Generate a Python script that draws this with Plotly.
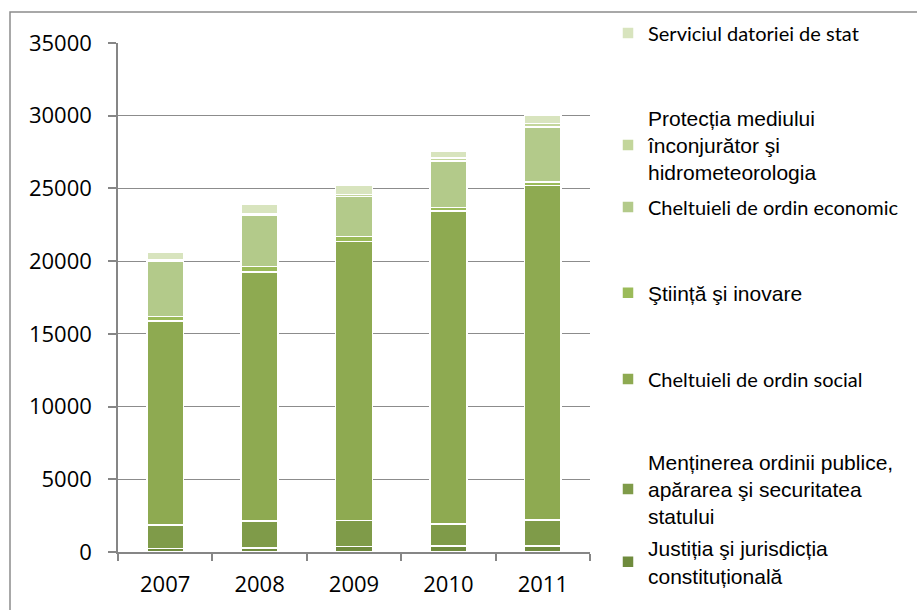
import plotly.graph_objects as go

# Budget expenditure by function, million lei
years = ["2007", "2008", "2009", "2010", "2011"]
justitia = [250, 280, 365, 430, 430]
mentinerea = [1607, 1850, 1785, 1495, 1770]
social = [14011, 17108, 19192, 21529, 23008]
stiinta = [316, 385, 358, 241, 241]
economic = [3797, 3540, 2750, 3198, 3783]
protectia = [100, 110, 120, 200, 250]
datoriei = [533, 612, 672, 440, 575]

names = [
    "Justiția şi jurisdicția<br>constituțională",
    "Menținerea ordinii publice,<br>apărarea şi securitatea<br>statului",
    "Cheltuieli de ordin social",
    "Ştiință şi inovare",
    "Cheltuieli de ordin economic",
    "Protecția mediului<br>înconjurător şi<br>hidrometeorologia",
    "Serviciul datoriei de stat",
]
series = [justitia, mentinerea, social, stiinta, economic, protectia, datoriei]
colors = ["#6F8B3D", "#7F9B49", "#8EAA51", "#9BBB59", "#B3CA8A", "#C3D69B", "#D8E4BE"]

# plot area in pixels
L, R, T, B = 118, 327, 43, 58
W, H = 917, 610
pw, ph = W - L - R, H - T - B


def px_y(y):
    return (H - B - y) / ph


def px_x(x):
    return (x - L) / pw


arial = "Liberation Sans, Arial, sans-serif"
calib = "Lato, Calibri, sans-serif"
legend_fonts = [arial, arial, calib, arial, calib, arial, calib]
legend_sizes = [21, 21, 20, 21, 20, 21, 20]
legend_centers = [562, 489, 379, 293, 207, 145, 33]
legend_ids = ["legend", "legend2", "legend3", "legend4", "legend5", "legend6", "legend7"]

fig = go.Figure()
for name, vals, col, lid in zip(names, series, colors, legend_ids):
    fig.add_trace(go.Bar(
        x=years, y=vals, name=name, legend=lid,
        marker=dict(color=col, line=dict(color="white", width=1.5)),
    ))

layout_legends = {}
for lid, fnt, sz, cy in zip(legend_ids, legend_fonts, legend_sizes, legend_centers):
    layout_legends[lid] = dict(
        x=px_x(608), y=px_y(cy), xanchor="left", yanchor="middle",
        bgcolor="rgba(0,0,0,0)", borderwidth=0,
        font=dict(family=fnt, size=sz, color="#000000"),
        itemclick=False, itemdoubleclick=False,
    )

fig.update_layout(
    width=W, height=H,
    margin=dict(l=L, r=R, t=T, b=B),
    paper_bgcolor="white", plot_bgcolor="white",
    barmode="stack", bargap=0.61,
    showlegend=True,
    **layout_legends,
    xaxis=dict(
        type="category", tickson="boundaries", ticks="outside", ticklen=7,
        tickcolor="#868686", tickwidth=1.5, showline=True, linecolor="#868686", linewidth=1.5,
        showgrid=False,
        tickfont=dict(family="Open Sans, sans-serif", size=22, color="#000000"),
        ticklabelstandoff=12,
    ),
    yaxis=dict(
        range=[0, 35000], dtick=5000, tickformat="d",
        ticks="outside", ticklen=8, tickcolor="#868686", tickwidth=1.5,
        showline=True, linecolor="#868686", linewidth=1.5,
        showgrid=True, gridcolor="#8C8C8C", gridwidth=1.2, zeroline=False,
        tickfont=dict(family="Open Sans, sans-serif", size=22, color="#000000"),
        ticklabelstandoff=12,
    ),
    shapes=[dict(
        type="rect", xref="paper", yref="paper",
        x0=px_x(10), x1=px_x(960), y0=px_y(650), y1=px_y(12),
        line=dict(color="#8C8C8C", width=1.5), fillcolor="rgba(0,0,0,0)", layer="below",
    )],
)

fig.write_html("out.html")
